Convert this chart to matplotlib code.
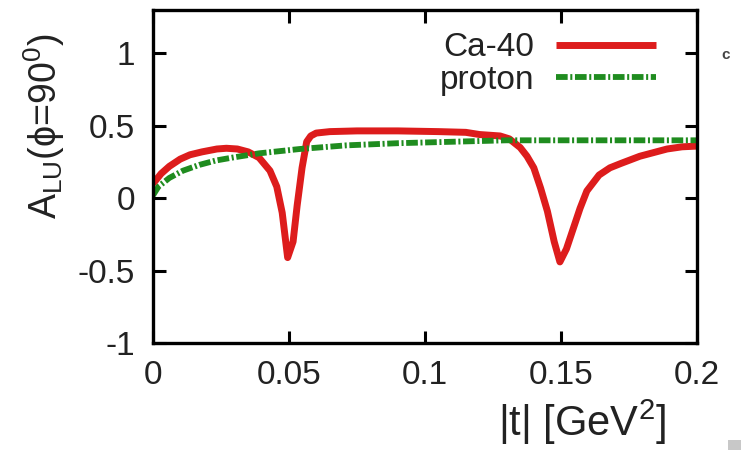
import numpy as np
import matplotlib
matplotlib.use("Agg")
import matplotlib.pyplot as plt
from matplotlib.patches import Rectangle

plt.rcParams['font.family'] = ['Liberation Sans', 'DejaVu Sans']
plt.rcParams['mathtext.fontset'] = 'custom'
plt.rcParams['mathtext.rm'] = 'Liberation Sans'
plt.rcParams['mathtext.it'] = 'Liberation Sans'

# Ca-40 curve
t_ca = [0.000, 0.003, 0.006, 0.010, 0.0136, 0.018, 0.0235, 0.027, 0.031, 0.035, 0.039,
        0.043, 0.0455, 0.0475, 0.0495, 0.0515, 0.053, 0.0548, 0.0565, 0.058, 0.060,
        0.065, 0.075, 0.090, 0.105, 0.115, 0.120, 0.1276, 0.131, 0.135, 0.1375,
        0.140, 0.1425, 0.145, 0.1475, 0.1496, 0.152, 0.1545, 0.157, 0.1595, 0.164,
        0.168, 0.172, 0.179, 0.185, 0.189, 0.1945, 0.200]
a_ca = [0.10, 0.17, 0.22, 0.27, 0.30, 0.32, 0.34, 0.345, 0.34, 0.32, 0.28,
        0.19, 0.08, -0.10, -0.41, -0.30, -0.05, 0.21, 0.39, 0.43, 0.45,
        0.46, 0.465, 0.465, 0.46, 0.455, 0.44, 0.43, 0.41, 0.35, 0.29,
        0.21, 0.07, -0.09, -0.30, -0.44, -0.35, -0.21, -0.07, 0.05, 0.16,
        0.21, 0.24, 0.29, 0.32, 0.34, 0.355, 0.36]

# proton curve
t_p = [0.000, 0.002, 0.006, 0.011, 0.017, 0.023, 0.029, 0.039, 0.054, 0.071,
       0.090, 0.110, 0.130, 0.150, 0.170, 0.200]
a_p = [0.02, 0.08, 0.14, 0.19, 0.23, 0.26, 0.28, 0.31, 0.34, 0.365,
       0.38, 0.39, 0.40, 0.40, 0.40, 0.40]

xticks = [0, 0.05, 0.1, 0.15, 0.2]
xticklabels = ['0', '0.05', '0.1', '0.15', '0.2']
yticks = [-1, -0.5, 0, 0.5, 1]
yticklabels = ['-1', '-0.5', '0', '0.5', '1']

fig = plt.figure(figsize=(7.41, 4.58), dpi=100)
ax = fig.add_axes([153/741, 1 - 343/458, (697-153)/741, (343-10)/458])

red = '#dd1c1c'
green = '#1f8c1f'
ax.plot(t_ca, a_ca, color=red, lw=5.0, label='Ca-40', solid_capstyle='butt')
ax.plot(t_p, a_p, color=green, lw=4.2, dashes=(2.0, 0.45, 0.35, 0.45), label='proton')

ax.set_xlim(0, 0.2)
ax.set_ylim(-1, 1.3)
ax.set_xticks(xticks)
ax.set_xticklabels(xticklabels)
ax.set_yticks(yticks)
ax.set_yticklabels(yticklabels)
ax.tick_params(direction='in', length=9, width=2.2, labelsize=24, top=True, right=True,
               colors='black', labelcolor='#222222')
ax.tick_params(axis='x', pad=12)
ax.tick_params(axis='y', pad=13)
for s in ax.spines.values():
    s.set_linewidth(2.4)

ax.set_ylabel(r'A$_{\mathregular{LU}}$(ϕ=90$^{\mathregular{0}}$)', fontsize=27, color='#222222')
ax.yaxis.set_label_coords(-0.158, 0.65)
ax.set_xlabel(r'|t| [GeV$^{\mathregular{2}}$]', fontsize=30, color='#222222')
ax.xaxis.set_label_coords(0.789, -0.165)

leg = ax.legend(loc='upper right', bbox_to_anchor=(0.950, 0.973), frameon=False, fontsize=24,
                markerfirst=False, handlelength=3.0, handletextpad=0.66, labelspacing=0.05,
                borderaxespad=0)
for txt in leg.get_texts():
    txt.set_color('#222222')

fig.patches.append(Rectangle((728/741, 8/458), 13/741, 10/458, transform=fig.transFigure,
                             facecolor='#c8c8c8', edgecolor='none'))
fig.text(726/741, 1 - 55/458, 'c', fontsize=11, fontweight='bold', color='#444444',
         ha='center', va='center')

fig.savefig('out.png', dpi=100)
